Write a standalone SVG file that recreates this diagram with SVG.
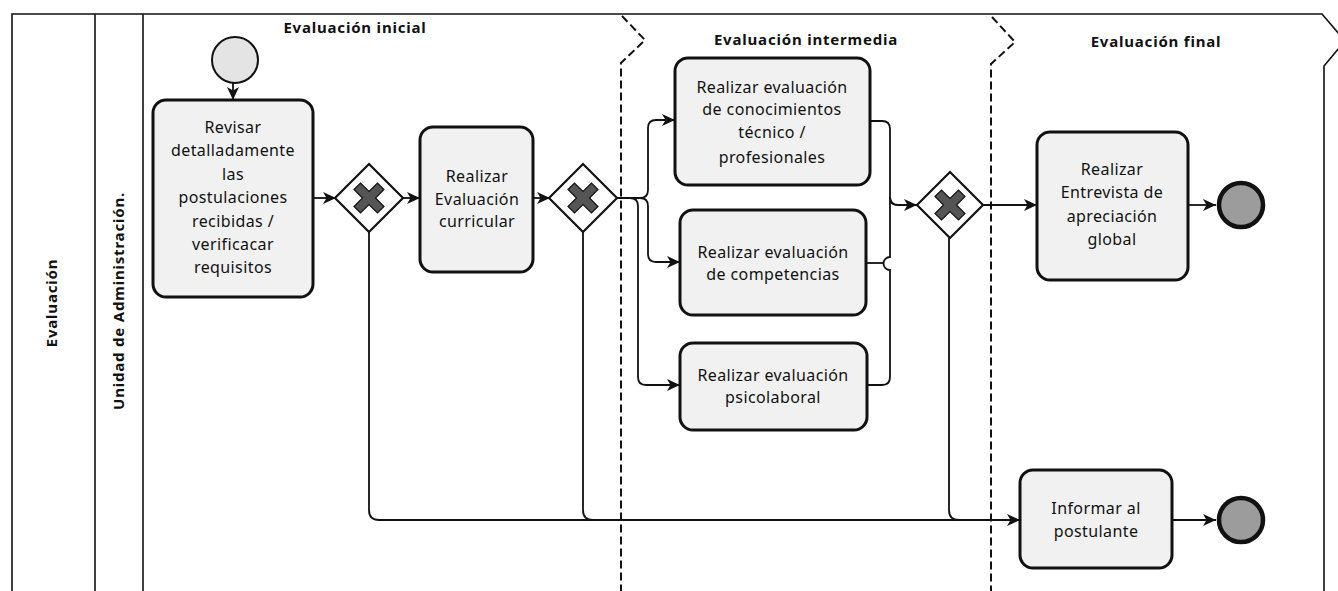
<svg xmlns="http://www.w3.org/2000/svg" width="1338" height="591" viewBox="0 0 1338 591">
<defs>
<style>
.pool{fill:none;stroke:#111;stroke-width:1.6}
.phase{fill:none;stroke:#111;stroke-width:2;stroke-dasharray:8 4}
.task{fill:#f1f1f1;stroke:#111;stroke-width:3}
.gw{fill:#fff;stroke:#111;stroke-width:2.2}
.xm{fill:#555;stroke:#111;stroke-width:1.2}
.flow{fill:none;stroke:#111;stroke-width:1.8}
.t{font-family:"Noto Sans","DejaVu Sans",sans-serif;font-size:16px;fill:#111;text-anchor:middle;letter-spacing:0.4px}
.h{font-family:"Noto Sans","DejaVu Sans",sans-serif;font-size:15px;font-weight:bold;fill:#111;text-anchor:middle;letter-spacing:0.8px}
.start{fill:#e4e4e4;stroke:#111;stroke-width:2}
.end{fill:#9c9c9c;stroke:#111;stroke-width:4.5}
</style>
<marker id="arr" markerUnits="userSpaceOnUse" markerWidth="14" markerHeight="12" refX="13" refY="6" orient="auto">
<path d="M0,0 L13,6 L0,12 L3.5,6 Z" fill="#111"/>
</marker>
<polygon id="xmark" points="-15,-8.5 -8.5,-15 0,-6.5 8.5,-15 15,-8.5 6.5,0 15,8.5 8.5,15 0,6.5 -8.5,15 -15,8.5 -6.5,0"/>
</defs>

<g id="pool">
<path class="pool" d="M12 591 V14 H1322 L1345 41 L1324 66 V591"/>
<line class="pool" x1="95" y1="14" x2="95" y2="591"/>
<line class="pool" x1="143" y1="14" x2="143" y2="591"/>
<text class="h" transform="translate(57,303) rotate(-90)">Evaluación</text>
<text class="h" transform="translate(124,301) rotate(-90)">Unidad de Administración.</text>
</g>

<g id="phases">
<path class="phase" d="M622 16 L645 40 L621 63 V591"/>
<path class="phase" d="M992 17 L1015 42 L991 64 V591"/>
<text class="h" x="355" y="33">Evaluación inicial</text>
<text class="h" x="806" y="45">Evaluación  intermedia</text>
<text class="h" x="1156" y="47">Evaluación final</text>
</g>

<g id="connectors">
<path class="flow" d="M233 83 V100" marker-end="url(#arr)"/>
<path class="flow" d="M313 198 H336" marker-end="url(#arr)"/>
<path class="flow" d="M403 198 H420" marker-end="url(#arr)"/>
<path class="flow" d="M533 198 H550" marker-end="url(#arr)"/>
<path class="flow" d="M617 198 H640 Q648 198 648 190 V128 Q648 120 656 120 H675" marker-end="url(#arr)"/>
<path class="flow" d="M617 198 H640 Q648 198 648 206 V254 Q648 262 656 262 H680" marker-end="url(#arr)"/>
<path class="flow" d="M617 198 H630 Q638 198 638 206 V377 Q638 385 646 385 H680" marker-end="url(#arr)"/>
<path class="flow" d="M870 121 H882 Q890 121 890 129 V197 Q890 205 898 205 H917" marker-end="url(#arr)"/>
<path class="flow" d="M866 263 H883"/>
<path class="flow" d="M867 385 H882 Q890 385 890 377 V270 A6.5 6.5 0 0 1 890 257 V197 Q890 205 898 205"/>
<path class="flow" d="M983 205 H1037" marker-end="url(#arr)"/>
<path class="flow" d="M1188 205 H1216" marker-end="url(#arr)"/>
<path class="flow" d="M369 232 V510 Q369 520 379 520 H1020" marker-end="url(#arr)"/>
<path class="flow" d="M583 232 V510 Q583 520 593 520"/>
<path class="flow" d="M949 238 V510 Q949 520 959 520"/>
<path class="flow" d="M1172 520 H1216" marker-end="url(#arr)"/>
</g>

<g id="start">
<circle class="start" cx="235" cy="60" r="23"/>
</g>

<g id="task-revisar">
<rect class="task" x="153" y="100" width="160" height="197" rx="13"/>
<text class="t" x="233" y="133">Revisar</text>
<text class="t" x="233" y="156">detalladamente</text>
<text class="t" x="233" y="180">las</text>
<text class="t" x="233" y="203">postulaciones</text>
<text class="t" x="233" y="227">recibidas /</text>
<text class="t" x="233" y="250">verificacar</text>
<text class="t" x="233" y="273">requisitos</text>
</g>

<g id="gw1">
<polygon class="gw" points="369,164 403,198 369,232 335,198"/>
<use href="#xmark" class="xm" transform="translate(369,198)"/>
</g>

<g id="task-curricular">
<rect class="task" x="420" y="127" width="113" height="145" rx="13"/>
<text class="t" x="477" y="182">Realizar</text>
<text class="t" x="477" y="205">Evaluación</text>
<text class="t" x="477" y="227">curricular</text>
</g>

<g id="gw2">
<polygon class="gw" points="583,164 617,198 583,232 549,198"/>
<use href="#xmark" class="xm" transform="translate(583,198)"/>
</g>

<g id="task-conocimientos">
<rect class="task" x="675" y="58" width="195" height="127" rx="13"/>
<text class="t" x="772" y="93">Realizar evaluación</text>
<text class="t" x="772" y="115">de conocimientos</text>
<text class="t" x="772" y="138">técnico /</text>
<text class="t" x="772" y="163">profesionales</text>
</g>

<g id="task-competencias">
<rect class="task" x="680" y="210" width="186" height="105" rx="13"/>
<text class="t" x="773" y="258">Realizar evaluación</text>
<text class="t" x="773" y="280">de competencias</text>
</g>

<g id="task-psicolaboral">
<rect class="task" x="680" y="343" width="187" height="87" rx="13"/>
<text class="t" x="773" y="381">Realizar evaluación</text>
<text class="t" x="773" y="403">psicolaboral</text>
</g>

<g id="gw3">
<polygon class="gw" points="950,172 983,205 950,238 917,205"/>
<use href="#xmark" class="xm" transform="translate(950,205)"/>
</g>

<g id="task-entrevista">
<rect class="task" x="1037" y="132" width="151" height="148" rx="13"/>
<text class="t" x="1112" y="175">Realizar</text>
<text class="t" x="1112" y="198">Entrevista de</text>
<text class="t" x="1112" y="222">apreciación</text>
<text class="t" x="1112" y="245">global</text>
</g>

<g id="end1">
<circle class="end" cx="1241" cy="205" r="22"/>
</g>

<g id="task-informar">
<rect class="task" x="1020" y="470" width="152" height="98" rx="13"/>
<text class="t" x="1096" y="514">Informar al</text>
<text class="t" x="1096" y="537">postulante</text>
</g>

<g id="end2">
<circle class="end" cx="1241" cy="520" r="22"/>
</g>
</svg>
